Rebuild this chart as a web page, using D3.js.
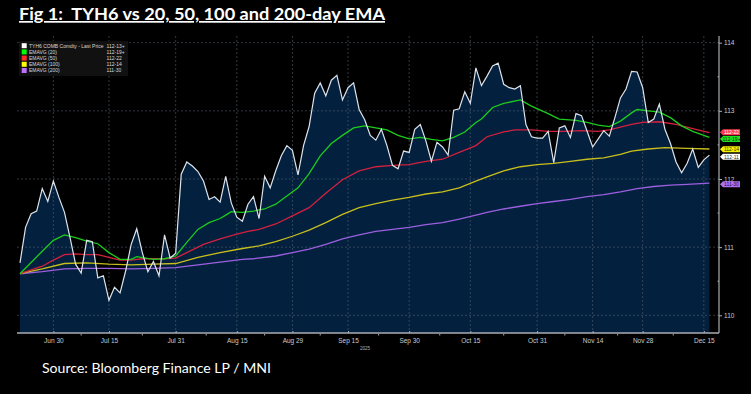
<!DOCTYPE html>
<html>
<head>
<meta charset="utf-8">
<script src="https://cdn.jsdelivr.net/npm/d3@7"></script>
<style>
  html, body { margin: 0; padding: 0; background: #000; }
  svg { display: block; }
</style>
</head>
<body>
<div class="chart"></div>
<script>
// TYH6 last price, one value per trading day (Jun 20 .. Dec 16)
const price = [
  110.77, 111.29, 111.49, 111.53, 111.86, 111.67, 111.97, 111.73, 111.51, 111.14,
  110.75, 110.62, 111.10, 111.08, 110.55, 110.58, 110.22, 110.41, 110.33, 110.65,
  111.04, 111.27, 110.92, 110.64, 110.79, 110.58, 111.18, 110.84, 110.91, 112.07,
  112.25, 112.19, 112.11, 111.97, 111.70, 111.74, 111.66, 112.04, 111.65, 111.44,
  111.38, 111.63, 111.74, 111.42, 112.04, 111.87, 112.12, 112.34, 112.49, 112.42,
  112.06, 112.49, 112.77, 113.26, 113.41, 113.22, 113.45, 113.52, 113.16, 113.34,
  113.41, 113.02, 112.87, 112.64, 112.57, 112.73, 112.49, 112.20, 112.15, 112.41,
  112.39, 112.73, 112.80, 112.56, 112.26, 112.54, 112.47, 112.35, 113.01, 113.03,
  113.28, 113.11, 113.63, 113.37, 113.51, 113.66, 113.70, 113.39, 113.34, 113.32,
  113.37, 112.80, 112.62, 112.60, 112.60, 112.70, 112.24, 112.75, 112.78, 112.61,
  112.96, 112.93, 112.70, 112.47, 112.59, 112.71, 112.63, 112.90, 113.19, 113.32,
  113.58, 113.57, 113.34, 112.83, 112.88, 113.10, 112.73, 112.52, 112.25, 112.09,
  112.23, 112.44, 112.17, 112.28, 112.35
];

// EMA lines as [day index, value]
const ema20 = [
  [0,110.61],[4,110.94],[6,111.10],[8,111.18],[10,111.14],[12,111.09],[14,111.05],
  [16,110.92],[18,110.82],[20,110.82],[21,110.86],[24,110.82],[26,110.83],[28,110.87],
  [30,111.07],[32,111.26],[34,111.36],[36,111.42],[37,111.47],[38,111.52],[40,111.51],
  [42,111.53],[44,111.56],[46,111.63],[48,111.75],[50,111.87],[52,112.08],[54,112.34],
  [56,112.52],[58,112.64],[60,112.75],[62,112.78],[64,112.75],[66,112.72],[68,112.64],
  [70,112.59],[72,112.61],[74,112.58],[76,112.56],[78,112.61],[80,112.69],[82,112.83],
  [83,112.88],[85,113.05],[87,113.11],[90,113.16],[92,113.07],[95,112.96],[97,112.88],
  [100,112.86],[102,112.83],[104,112.79],[106,112.77],[108,112.85],[110,112.97],[111,113.02],
  [113,113.00],[115,112.98],[117,112.90],[119,112.78],[121,112.70],[124,112.61]
];
const ema50 = [
  [0,110.61],[4,110.72],[6,110.81],[8,110.89],[10,110.90],[12,110.89],[14,110.89],
  [16,110.85],[18,110.81],[20,110.81],[22,110.83],[26,110.83],[28,110.84],[30,110.92],
  [33,111.04],[36,111.12],[39,111.19],[41,111.23],[43,111.26],[46,111.34],[49,111.46],
  [52,111.58],[55,111.79],[58,111.99],[61,112.12],[64,112.18],[67,112.20],[70,112.21],
  [73,112.26],[76,112.29],[79,112.39],[82,112.49],[84,112.62],[87,112.69],[89,112.72],
  [92,112.72],[95,112.70],[98,112.70],[101,112.71],[104,112.70],[106,112.72],[108,112.76],
  [110,112.80],[112,112.83],[115,112.84],[118,112.80],[121,112.74],[124,112.68]
];
const ema100 = [
  [0,110.61],[4,110.68],[8,110.76],[12,110.77],[16,110.75],[20,110.74],[24,110.75],
  [28,110.76],[32,110.85],[36,110.92],[40,110.98],[43,111.02],[46,111.08],[49,111.16],
  [52,111.25],[55,111.36],[58,111.48],[61,111.58],[64,111.64],[67,111.69],[70,111.73],
  [73,111.78],[76,111.81],[79,111.87],[82,111.97],[84,112.03],[87,112.12],[90,112.18],
  [93,112.21],[96,112.23],[99,112.26],[102,112.29],[105,112.31],[108,112.36],[110,112.41],
  [113,112.44],[116,112.46],[120,112.45],[124,112.44]
];
const ema200 = [
  [0,110.61],[4,110.64],[8,110.68],[12,110.69],[16,110.69],[20,110.68],[24,110.69],
  [28,110.70],[32,110.74],[36,110.78],[40,110.82],[42,110.83],[46,110.87],[49,110.92],
  [52,110.97],[55,111.04],[58,111.12],[61,111.18],[64,111.23],[67,111.26],[70,111.29],
  [73,111.33],[76,111.36],[79,111.41],[82,111.47],[84,111.51],[87,111.56],[90,111.60],
  [93,111.64],[96,111.67],[99,111.70],[102,111.74],[105,111.77],[108,111.81],[111,111.86],
  [114,111.89],[117,111.91],[120,111.92],[124,111.94]
];

// x axis labels and their trading-day index
const tickLabels = ["Jun 30", "Jul 15", "Jul 31", "Aug 15", "Aug 29", "Sep 15",
                    "Sep 30", "Oct 15", "Oct 31", "Nov 14", "Nov 28", "Dec 15"];
const tickIdx = [6, 16, 28, 39, 49, 59, 70, 81, 93, 103, 112, 123];
const yTicks = [110, 111, 112, 113, 114];

const legendNames = ["TYH6 COMB Comdty - Last Price", "EMAVG (20)", "EMAVG (50)", "EMAVG (100)", "EMAVG (200)"];
const legendValues = ["112-13+", "112-19+", "112-22", "112-14", "111-30"];
const legendColors = ["#ffffff", "#00ff00", "#ff2a2a", "#ffff00", "#c070ff"];

// end-of-line tags on the right axis
const tagText = ["112-22", "112-19+", "112-14", "112-11", "111-30"];
const tagValue = [112.6875, 112.61, 112.4375, 112.34, 111.9375];
const tagColors = ["#ff3b4f", "#1fe01f", "#f5f000", "#ffffff", "#b070f0"];
const tagTextColors = ["#ffffff", "#0a3a0a", "#3a3a00", "#333333", "#2a1040"];

const width = 751, height = 394;
const plot = {left: 17, right: 719, top: 36, bottom: 333};

const svg = d3.select(".chart")
  .append("svg")
  .attr("width", width)
  .attr("height", height)
  .style("background", "#000");

const x = d3.scaleLinear().domain([0, price.length - 1]).range([20, 709.4]);
const y = d3.scaleLinear().domain([110, 114]).range([315.3, 42.7]);

// title
svg.append("text")
  .attr("x", 19)
  .attr("y", 20)
  .attr("fill", "#fff")
  .attr("font-family", "Lato, 'Open Sans', sans-serif")
  .attr("font-weight", "bold")
  .attr("font-size", 17)
  .attr("text-decoration", "underline")
  .attr("textLength", 366)
  .attr("lengthAdjust", "spacingAndGlyphs")
  .style("white-space", "pre")
  .text("Fig 1:  TYH6 vs 20, 50, 100 and 200-day EMA");

// price area
const area = d3.area()
  .x((d, i) => x(i))
  .y0(plot.bottom)
  .y1(d => y(d));

svg.append("path")
  .datum(price)
  .attr("d", area)
  .attr("fill", "#03203f");

// grid
const grid = svg.append("g")
  .attr("stroke", "#5a6470")
  .attr("stroke-width", 0.7)
  .attr("stroke-dasharray", "2,2")
  .attr("opacity", 0.8);

grid.selectAll(".hg")
  .data(yTicks)
  .enter().append("line")
  .attr("x1", plot.left)
  .attr("x2", plot.right)
  .attr("y1", d => y(d))
  .attr("y2", d => y(d));

grid.selectAll(".vg")
  .data(tickIdx)
  .enter().append("line")
  .attr("x1", d => x(d))
  .attr("x2", d => x(d))
  .attr("y1", plot.top)
  .attr("y2", plot.bottom);

// lines
const line = d3.line()
  .x(d => x(d[0]))
  .y(d => y(d[1]));

const emaSeries = [
  {data: ema200, color: "#9b5fe0"},
  {data: ema100, color: "#c9bf1c"},
  {data: ema50, color: "#d3213f"},
  {data: ema20, color: "#1ccc1c"}
];

emaSeries.forEach(s => {
  svg.append("path")
    .datum(s.data)
    .attr("d", line)
    .attr("fill", "none")
    .attr("stroke", s.color)
    .attr("stroke-width", 1.3);
});

svg.append("path")
  .datum(price.map((d, i) => [i, d]))
  .attr("d", line)
  .attr("fill", "none")
  .attr("stroke", "#dde3ea")
  .attr("stroke-width", 1.2);

// axes
const axisColor = "#a8adb3";

svg.append("line")
  .attr("x1", plot.left).attr("x2", plot.right)
  .attr("y1", plot.bottom).attr("y2", plot.bottom)
  .attr("stroke", axisColor).attr("stroke-width", 1.5);

svg.append("line")
  .attr("x1", plot.right).attr("x2", plot.right)
  .attr("y1", plot.top).attr("y2", plot.bottom)
  .attr("stroke", axisColor).attr("stroke-width", 1.2);

const xAxis = g => g
  .attr("transform", `translate(0,${plot.bottom})`)
  .call(d3.axisBottom(x)
    .tickValues(tickIdx)
    .tickFormat((d, i) => tickLabels[i])
    .tickSize(2)
    .tickPadding(3))
  .call(g => g.select(".domain").remove())
  .call(g => g.selectAll("line").attr("stroke", axisColor).attr("transform", "translate(0,-2)"))
  .call(g => g.selectAll("text")
    .attr("fill", "#c8ccd0")
    .attr("font-family", "'Liberation Sans', Arial, sans-serif")
    .attr("font-size", 6.5));

svg.append("g").call(xAxis);

// minor x ticks half way between labels
const minorX = tickIdx.slice(1).map((d, i) => (d + tickIdx[i]) / 2);
svg.selectAll(".mx")
  .data(minorX)
  .enter().append("line")
  .attr("x1", d => x(d)).attr("x2", d => x(d))
  .attr("y1", plot.bottom + 1).attr("y2", plot.bottom + 2.5)
  .attr("stroke", axisColor);

svg.append("text")
  .attr("x", 365)
  .attr("y", 350)
  .attr("text-anchor", "middle")
  .attr("fill", "#b0b4b8")
  .attr("font-family", "'Liberation Sans', Arial, sans-serif")
  .attr("font-size", 4.5)
  .text("2025");

const yAxis = g => g
  .attr("transform", `translate(${plot.right},0)`)
  .call(d3.axisRight(y)
    .tickValues(yTicks)
    .tickFormat(d3.format("d"))
    .tickSize(3)
    .tickPadding(2))
  .call(g => g.select(".domain").remove())
  .call(g => g.selectAll("line").attr("stroke", axisColor))
  .call(g => g.selectAll("text")
    .attr("fill", "#c8ccd0")
    .attr("font-family", "'Liberation Sans', Arial, sans-serif")
    .attr("font-size", 6.5));

svg.append("g").call(yAxis);

svg.selectAll(".my")
  .data([110.5, 111.5, 112.5, 113.5])
  .enter().append("line")
  .attr("x1", plot.right - 1.5).attr("x2", plot.right)
  .attr("y1", d => y(d)).attr("y2", d => y(d))
  .attr("stroke", axisColor);

// right side value tags
const tags = svg.selectAll(".tag")
  .data(tagValue)
  .enter().append("g")
  .attr("transform", (d, i) => {
    // nudge overlapping tags apart like the terminal does
    const shift = [0, 1.5, 0, 1, 1][i];
    return `translate(${plot.right + 1},${y(d) + shift})`;
  });

tags.append("path")
  .attr("d", "M0,0 L3,-3 L20,-3 L20,3 L3,3 Z")
  .attr("fill", (d, i) => tagColors[i]);

tags.append("text")
  .attr("x", 11.5)
  .attr("y", 2)
  .attr("text-anchor", "middle")
  .attr("fill", (d, i) => tagTextColors[i])
  .attr("font-family", "'Liberation Sans', Arial, sans-serif")
  .attr("font-size", 5)
  .text((d, i) => tagText[i]);

// legend
const legend = svg.append("g").attr("transform", "translate(19,41)");

legend.append("rect")
  .attr("width", 109)
  .attr("height", 35)
  .attr("fill", "#111111");

const rows = legend.selectAll(".row")
  .data(legendNames)
  .enter().append("g")
  .attr("transform", (d, i) => `translate(0,${4.7 + i * 6.2})`);

rows.append("rect")
  .attr("x", 2.7)
  .attr("y", -2.5)
  .attr("width", 5)
  .attr("height", 5)
  .attr("fill", (d, i) => legendColors[i]);

rows.append("text")
  .attr("x", 10)
  .attr("y", 1.8)
  .attr("fill", "#d8d8d8")
  .attr("font-family", "'Liberation Sans', Arial, sans-serif")
  .attr("font-size", 5)
  .text(d => d);

rows.append("text")
  .attr("x", 87.5)
  .attr("y", 1.8)
  .attr("fill", "#d8d8d8")
  .attr("font-family", "'Liberation Sans', Arial, sans-serif")
  .attr("font-size", 5)
  .text((d, i) => legendValues[i]);

// source
svg.append("text")
  .attr("x", 42)
  .attr("y", 373)
  .attr("fill", "#fff")
  .attr("font-family", "Lato, 'Open Sans', sans-serif")
  .attr("font-size", 14)
  .attr("textLength", 229)
  .attr("lengthAdjust", "spacingAndGlyphs")
  .text("Source: Bloomberg Finance LP / MNI");
</script>
</body>
</html>
